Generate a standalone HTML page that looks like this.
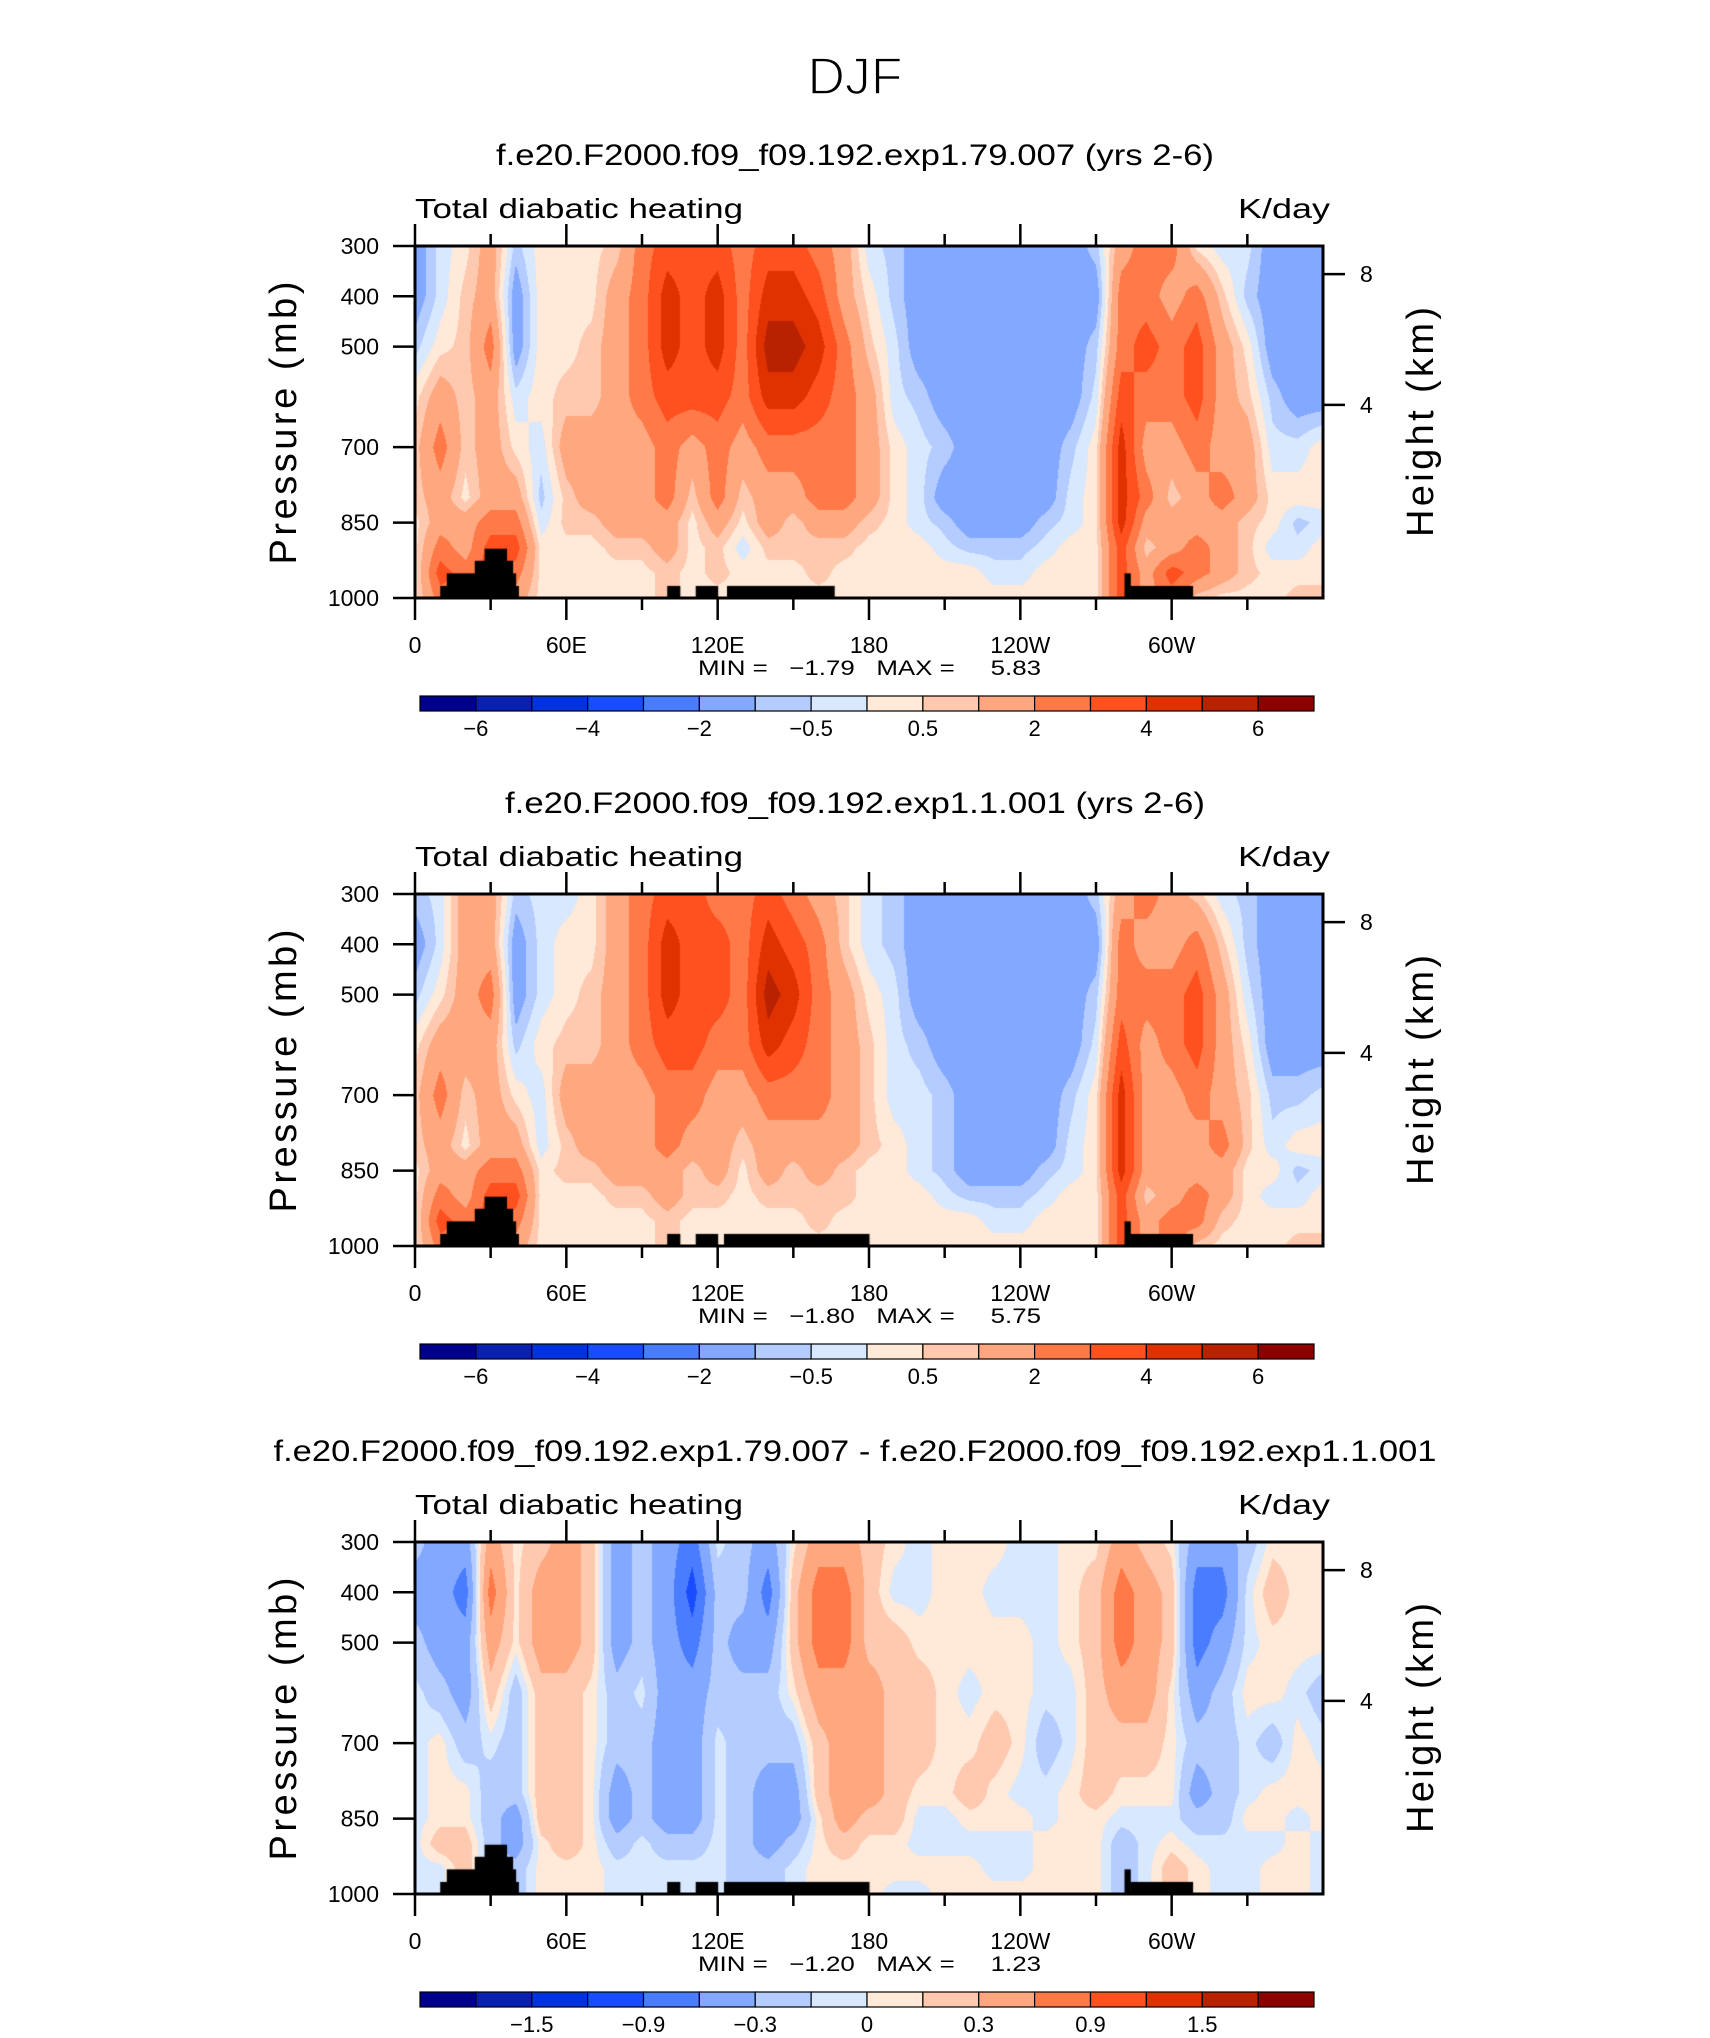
<!DOCTYPE html>
<html><head><meta charset="utf-8">
<style>
html,body{margin:0;padding:0;background:#fff;}
#root{position:relative;width:1710px;height:2038px;overflow:hidden;background:#fff;}
canvas{position:absolute;}
svg{position:absolute;left:0;top:0;}
text{font-family:"Liberation Sans",sans-serif;fill:#000;white-space:pre;}
</style></head>
<body>
<div id="root">
<canvas id="c0" width="908" height="352" style="left:415px;top:246px"></canvas>
<canvas id="c1" width="908" height="352" style="left:415px;top:894px"></canvas>
<canvas id="c2" width="908" height="352" style="left:415px;top:1542px"></canvas>
<svg id="ov" width="1710" height="2038">
<text x="855" y="94" font-size="52" text-anchor="middle" textLength="95" lengthAdjust="spacingAndGlyphs" stroke="#fff" stroke-width="1.6" paint-order="normal">DJF</text>
</svg>
</div>
<script>
// ---- data ----
const lons = [0,10,20,30,40,50,60,70,80,90,100,110,120,130,140,150,160,170,180,190,200,210,220,230,240,250,260,270,280,290,300,310,320,330,340,350,360];
const levels = [300,400,500,600,700,800,850,900,950,1000];
const levelsA = [-6,-5,-4,-3,-2,-1,-0.5,0,0.5,1,2,3,4,5,6];
const levelsB = [-1.8,-1.5,-1.2,-0.9,-0.6,-0.3,-0.1,0,0.1,0.3,0.6,0.9,1.2,1.5,1.8];
const cbLabelsA = ["\u22126","\u22124","\u22122","\u22120.5","0.5","2","4","6"];
const cbLabelsB = ["\u22121.5","\u22120.9","\u22120.3","0","0.3","0.9","1.5"];
const palette = ["#00008c","#0a20b0","#0032e0","#1a4cff","#4a7cff","#82a8ff","#b4ccff","#d8e8ff","#ffe9d8","#ffc9b0","#ffa880","#ff7a48","#ff5020","#e03200","#b82200","#8c0000"];
// each row = one longitude, values at levels 300..1000
const field1 = [
[-1.5,-1.5,-0.7,0.3,0.7,0.7,0.3,0.3,0.3,0.3],
[-0.3,-0.3,0.3,1.5,2.5,1.5,1.5,2.5,3.5,2.5],
[0.3,0.7,0.7,0.7,0.7,0.3,1.5,1.5,2.5,2.5],
[1.5,1.5,2.5,1.5,1.5,1.5,2.5,3.5,3.5,3.5],
[-0.7,-1.5,-1.5,-0.3,0.3,1.5,2.5,3.5,2.5,1.5],
[0.3,0.3,0.3,0.3,-0.3,-0.7,-0.3,0.3,0.3,0.3],
[0.3,0.3,0.3,0.7,1.5,0.7,0.7,0.3,0.3,0.3],
[0.3,0.3,0.7,0.7,1.5,1.5,0.7,0.3,0.3,0.3],
[0.7,1.5,1.5,1.5,1.5,1.5,1.5,0.7,0.3,0.3],
[2.5,2.5,2.5,2.5,1.5,1.5,1.5,0.7,0.3,0.3],
[3.5,4.5,4.5,3.5,2.5,2.5,1.5,1.5,0.7,0.7],
[3.5,3.5,3.5,3.5,1.5,0.7,0.3,0.3,0.3,0.3],
[3.5,4.5,4.5,3.5,2.5,2.5,1.5,0.7,0.7,0.3],
[2.5,2.5,2.5,2.5,1.5,0.7,0.3,-0.3,0.3,0.3],
[3.5,4.5,5.5,4.5,2.5,1.5,1.5,0.7,0.3,0.3],
[3.5,4.5,5.5,4.5,2.5,1.5,0.7,0.7,0.3,0.3],
[2.5,3.5,4.5,3.5,2.5,2.5,1.5,0.7,0.7,0.3],
[1.5,1.5,2.5,2.5,2.5,2.5,1.5,0.7,0.3,0.3],
[-0.3,0.3,0.7,1.5,1.5,1.5,0.7,0.3,0.3,0.3],
[-0.7,-0.7,-0.3,-0.3,0.3,0.3,0.3,0.3,0.3,0.3],
[-1.5,-1.5,-1.5,-0.7,-0.3,-0.3,-0.3,0.3,0.3,0.3],
[-1.5,-1.5,-1.5,-1.5,-0.7,-1.5,-0.7,-0.3,0.3,0.3],
[-1.5,-1.5,-1.5,-1.5,-1.5,-1.5,-1.5,-0.7,0.3,0.3],
[-1.5,-1.5,-1.5,-1.5,-1.5,-1.5,-1.5,-0.7,-0.3,0.3],
[-1.5,-1.5,-1.5,-1.5,-1.5,-1.5,-1.5,-0.7,-0.3,0.3],
[-1.5,-1.5,-1.5,-1.5,-1.5,-1.5,-0.7,-0.3,0.3,0.3],
[-1.5,-1.5,-1.5,-1.5,-0.7,-0.3,-0.3,0.3,0.3,0.3],
[-0.7,-1.5,-0.7,-0.3,0.3,0.3,0.3,0.3,0.3,0.3],
[1.5,2.5,2.5,3.5,4.5,4.5,4.5,3.5,3.5,3.5],
[2.5,2.5,3.5,2.5,1.5,2.5,1.5,0.7,1.5,1.5],
[2.5,1.5,2.5,2.5,1.5,0.7,1.5,1.5,3.5,2.5],
[0.3,2.5,3.5,3.5,2.5,1.5,1.5,2.5,2.5,0.7],
[-0.3,0.7,1.5,1.5,1.5,2.5,1.5,1.5,1.5,0.3],
[-0.3,-0.7,0.3,0.7,1.5,1.5,0.7,0.7,0.7,0.3],
[-1.5,-1.5,-1.5,-0.7,-0.3,0.3,0.3,-0.3,0.3,0.3],
[-1.5,-1.5,-1.5,-1.5,-0.3,0.3,-0.7,-0.3,0.3,0.7],
[-1.5,-1.5,-1.5,-1.5,0.3,0.3,-0.3,0.3,0.3,0.7]
];
const field2 = [
[-0.7,-1.5,-0.7,0.3,0.7,0.7,0.3,0.3,0.3,0.3],
[-0.3,-0.3,0.3,1.5,2.5,1.5,1.5,2.5,3.5,2.5],
[1.5,1.5,1.5,1.5,0.7,0.3,1.5,1.5,2.5,2.5],
[1.5,1.5,2.5,1.5,1.5,1.5,2.5,3.5,3.5,3.5],
[-0.7,-1.5,-1.5,-0.7,0.3,1.5,2.5,3.5,2.5,1.5],
[-0.3,-0.3,-0.3,0.3,-0.3,-0.3,0.3,0.3,0.3,0.3],
[-0.3,0.3,0.3,0.7,1.5,0.7,0.7,0.3,0.3,0.3],
[0.3,0.3,0.7,0.7,1.5,1.5,0.7,0.3,0.3,0.3],
[1.5,1.5,1.5,1.5,1.5,1.5,1.5,0.7,0.3,0.3],
[2.5,2.5,2.5,2.5,1.5,1.5,1.5,0.7,0.3,0.3],
[3.5,4.5,4.5,3.5,2.5,2.5,1.5,1.5,0.7,0.7],
[3.5,3.5,3.5,3.5,2.5,1.5,0.7,0.7,0.3,0.3],
[2.5,3.5,3.5,2.5,1.5,1.5,1.5,0.7,0.3,0.3],
[2.5,2.5,2.5,2.5,1.5,0.7,0.3,0.3,0.3,0.3],
[3.5,4.5,5.5,4.5,2.5,1.5,1.5,0.7,0.3,0.3],
[2.5,3.5,4.5,3.5,2.5,1.5,0.7,0.7,0.3,0.3],
[1.5,2.5,2.5,2.5,2.5,1.5,1.5,0.7,0.7,0.3],
[0.7,0.7,1.5,1.5,1.5,1.5,0.7,0.7,0.3,0.3],
[-0.3,-0.3,0.3,0.7,0.7,0.7,0.3,0.3,0.3,0.3],
[-0.7,-0.7,-0.3,-0.3,-0.3,0.3,0.3,0.3,0.3,0.3],
[-1.5,-1.5,-1.5,-0.7,-0.3,-0.3,-0.3,0.3,0.3,0.3],
[-1.5,-1.5,-1.5,-1.5,-0.7,-0.7,-0.7,-0.3,0.3,0.3],
[-1.5,-1.5,-1.5,-1.5,-1.5,-1.5,-1.5,-0.7,0.3,0.3],
[-1.5,-1.5,-1.5,-1.5,-1.5,-1.5,-1.5,-0.7,-0.3,0.3],
[-1.5,-1.5,-1.5,-1.5,-1.5,-1.5,-1.5,-0.7,-0.3,0.3],
[-1.5,-1.5,-1.5,-1.5,-1.5,-1.5,-0.7,-0.3,0.3,0.3],
[-1.5,-1.5,-1.5,-1.5,-0.7,-0.3,-0.3,0.3,0.3,0.3],
[-0.7,-1.5,-0.7,-0.3,0.3,0.3,0.3,0.3,0.3,0.3],
[1.5,2.5,2.5,3.5,4.5,4.5,4.5,3.5,3.5,3.5],
[2.5,1.5,2.5,1.5,1.5,1.5,1.5,0.7,1.5,1.5],
[1.5,1.5,2.5,2.5,1.5,1.5,1.5,1.5,2.5,2.5],
[0.7,2.5,3.5,3.5,2.5,1.5,1.5,2.5,2.5,0.7],
[-0.3,0.7,1.5,1.5,1.5,2.5,1.5,1.5,0.7,0.3],
[-0.7,-0.7,-0.3,0.3,0.7,0.7,0.3,0.3,0.3,0.3],
[-1.5,-1.5,-1.5,-1.5,-0.7,-0.3,0.3,-0.3,0.3,0.3],
[-1.5,-1.5,-1.5,-1.5,-0.7,0.3,-0.7,-0.3,0.3,0.7],
[-1.5,-1.5,-1.5,-1.5,-0.3,0.3,-0.3,0.3,0.3,0.7]
];
const field3 = [
[-0.2,-0.45,-0.2,-0.05,-0.05,-0.05,-0.05,-0.05,-0.05,-0.05],
[-0.45,-0.45,-0.45,-0.2,0.05,0.05,0.05,0.2,-0.05,-0.05],
[-0.45,-0.75,-0.45,-0.45,-0.2,0.05,0.05,0.2,0.2,0.2],
[0.45,0.75,0.45,0.2,-0.05,-0.2,-0.2,-0.2,-0.2,-0.2],
[0.05,0.05,0.05,-0.2,-0.2,-0.2,-0.45,-0.45,-0.2,-0.2],
[0.2,0.45,0.45,0.2,0.2,0.2,0.2,0.05,0.05,0.05],
[0.45,0.45,0.45,0.2,0.2,0.2,0.2,0.2,0.05,0.05],
[0.2,0.2,0.2,0.05,0.05,0.05,0.05,0.05,0.05,0.05],
[-0.45,-0.45,-0.45,-0.2,-0.2,-0.45,-0.45,-0.2,-0.05,-0.05],
[-0.2,-0.2,-0.2,-0.05,-0.2,-0.2,-0.2,-0.05,-0.05,-0.05],
[-0.45,-0.45,-0.45,-0.45,-0.45,-0.45,-0.45,-0.2,-0.05,-0.05],
[-0.75,-1.05,-0.75,-0.45,-0.45,-0.45,-0.45,-0.2,-0.05,-0.05],
[-0.05,-0.2,-0.2,-0.2,-0.05,-0.05,-0.05,-0.05,-0.05,-0.05],
[-0.2,-0.2,-0.45,-0.2,-0.2,-0.2,-0.2,-0.2,-0.2,-0.2],
[-0.45,-0.75,-0.45,-0.2,-0.2,-0.45,-0.45,-0.45,-0.2,-0.2],
[0.05,0.2,0.2,0.05,-0.2,-0.45,-0.45,-0.2,-0.05,-0.05],
[0.45,0.75,0.75,0.45,0.2,0.2,0.05,0.05,0.05,0.05],
[0.45,0.75,0.75,0.45,0.45,0.45,0.45,0.2,0.05,0.05],
[0.2,0.2,0.2,0.45,0.45,0.45,0.2,0.05,0.05,0.05],
[0.05,-0.05,0.2,0.2,0.2,0.2,0.2,0.05,0.05,-0.05],
[-0.05,-0.05,0.05,0.2,0.2,0.05,-0.05,-0.05,0.05,-0.05],
[0.05,0.05,0.05,0.05,0.05,0.05,-0.05,-0.05,0.05,0.05],
[0.05,0.05,0.05,-0.05,0.05,0.2,0.05,-0.05,0.05,0.05],
[0.05,-0.05,0.05,0.05,0.2,0.05,0.05,-0.05,-0.05,0.05],
[-0.05,-0.05,0.05,0.05,0.05,-0.05,0.05,-0.05,-0.05,0.05],
[-0.05,-0.05,-0.05,-0.05,-0.2,-0.05,-0.05,0.05,0.05,0.05],
[0.05,0.05,0.05,-0.05,-0.05,0.05,0.05,0.05,0.05,0.05],
[0.05,0.2,0.2,0.2,0.2,0.2,0.05,0.05,0.05,0.05],
[0.45,0.75,0.75,0.45,0.2,0.05,-0.05,-0.2,-0.2,-0.2],
[0.2,0.45,0.45,0.45,0.2,0.05,-0.05,-0.05,-0.05,-0.05],
[0.05,0.2,0.2,0.05,0.05,0.05,-0.05,0.05,0.2,0.2],
[-0.45,-0.75,-0.75,-0.45,-0.2,-0.45,-0.2,-0.05,0.05,0.05],
[-0.45,-0.75,-0.45,-0.2,-0.2,-0.2,-0.2,-0.05,-0.05,-0.05],
[-0.2,-0.05,-0.05,0.05,-0.05,-0.05,0.05,-0.05,-0.05,-0.05],
[0.05,0.2,0.05,0.05,-0.2,0.05,0.05,-0.05,0.05,0.05],
[0.05,0.05,0.05,-0.05,0.05,0.05,-0.05,0.05,0.05,0.05],
[0.05,0.05,0.05,-0.2,-0.05,0.05,0.05,-0.05,-0.05,-0.05]
];
// topography blocks: [lonStart, lonEnd, topPressure]
const topoA = [[10,12.6,976],[12.6,23.7,951],[23.7,27.6,926],[27.6,36.3,902],[36.3,38.7,926],[38.7,39.9,951],[39.9,41,976],[100,105,976],[111.3,120,976],[123.7,166.2,976],[281.3,283.6,951],[283.6,308.3,976]];
const topoB = [[10,12.6,976],[12.6,23.7,951],[23.7,27.6,926],[27.6,36.3,902],[36.3,38.7,926],[38.7,39.9,951],[39.9,41,976],[100,105,976],[111.3,120,976],[122.5,180,976],[281.3,283.6,951],[283.6,308.3,976]];
const xTickLabels = ["0","60E","120E","180","120W","60W"];
const xTickLons = [0,60,120,180,240,300];
const pTicks = [300,400,500,700,850,1000];
const hTicks = [8,4];
const hTickP = [356,616];
const subtitles = ["f.e20.F2000.f09_f09.192.exp1.79.007 (yrs 2-6)","f.e20.F2000.f09_f09.192.exp1.1.001 (yrs 2-6)","f.e20.F2000.f09_f09.192.exp1.79.007 - f.e20.F2000.f09_f09.192.exp1.1.001"];
const subtitleWidths = [718,700,1163];
const minmax = ["MIN =   \u22121.79   MAX =     5.83","MIN =   \u22121.80   MAX =     5.75","MIN =   \u22121.20   MAX =     1.23"];

// ---- geometry ----
const PW = 908, PH = 352, PX = 415;
const panelTops = [246, 894, 1542];
function xOf(lon){ return lon/360*PW; }
function yOf(p){ return (p-300)/700*PH; }

function sample(field, lon, p){
  let i = Math.min(Math.floor(lon/10), lons.length-2);
  let tx = (lon - lons[i])/10;
  let j = 0;
  while (j < levels.length-2 && p > levels[j+1]) j++;
  let ty = (p - levels[j])/(levels[j+1]-levels[j]);
  ty = Math.max(0, Math.min(1, ty));
  const a = field[i][j], b = field[i+1][j], c = field[i][j+1], d = field[i+1][j+1];
  return (a*(1-tx)+b*tx)*(1-ty) + (c*(1-tx)+d*tx)*ty;
}
function colorFor(v, lv){
  let k = 0;
  while (k < lv.length && v >= lv[k]) k++;
  return palette[k];
}
function drawPanel(cid, field, lv, topo){
  const ctx = document.getElementById(cid).getContext('2d');
  const s = 1;
  for (let px = 0; px < PW; px += s){
    const lon = (px + s/2)/PW*360;
    for (let py = 0; py < PH; py += s){
      const p = 300 + (py + s/2)/PH*700;
      ctx.fillStyle = colorFor(sample(field, lon, p), lv);
      ctx.fillRect(px, py, s, s);
    }
  }
  ctx.fillStyle = '#000';
  topo.forEach(t => {
    const x0 = xOf(t[0]), x1 = xOf(t[1]), y0 = yOf(t[2]);
    ctx.fillRect(x0, y0, x1 - x0 + 0.5, PH - y0);
  });
}
drawPanel('c0', field1, levelsA, topoA);
drawPanel('c1', field2, levelsA, topoB);
drawPanel('c2', field3, levelsB, topoB);

// ---- SVG overlay ----
const NS = 'http://www.w3.org/2000/svg';
const svg = document.getElementById('ov');
function mk(tag, attrs, parent){
  const e = document.createElementNS(NS, tag);
  for (const k in attrs) e.setAttribute(k, attrs[k]);
  (parent || svg).appendChild(e);
  return e;
}
function txt(str, attrs, parent){ const e = mk('text', attrs, parent); e.textContent = str; return e; }

panelTops.forEach((T, n) => {
  const g = mk('g', {});
  
  
  const st = txt(subtitles[n], {x: 855, y: T - 81, 'font-size': 30, 'text-anchor': 'middle', textLength: subtitleWidths[n], lengthAdjust: 'spacingAndGlyphs'}, g);
  
  
  const lt = txt('Total diabatic heating', {x: PX, y: T - 28, 'font-size': 28, textLength: 328, lengthAdjust: 'spacingAndGlyphs'}, g);
  
  
  const ut = txt('K/day', {x: 1330, y: T - 28, 'font-size': 28, 'text-anchor': 'end', textLength: 92, lengthAdjust: 'spacingAndGlyphs'}, g);
  
  
  const fr = mk('rect', {x: PX, y: T, width: PW, height: PH, fill: 'none', stroke: '#000', 'stroke-width': 3}, g);
  
  
  for (let lon = 0; lon <= 330; lon += 30){
    const x = PX + xOf(lon), major = lon % 60 === 0;
    const L = major ? 22 : 12;
    const tb = mk('line', {x1: x, x2: x, y1: T + PH, y2: T + PH + L, stroke: '#000', 'stroke-width': 2.5}, g);
    
    
    const tt = mk('line', {x1: x, x2: x, y1: T, y2: T - L, stroke: '#000', 'stroke-width': 2.5}, g);
    
    
  }
  xTickLons.forEach((lon, i) => {
    const e = txt(xTickLabels[i], {x: PX + xOf(lon), y: T + PH + 55, 'font-size': 23, 'text-anchor': 'middle'}, g);
    
    
  });
  pTicks.forEach(p => {
    const y = T + yOf(p);
    const l = mk('line', {x1: PX - 22, x2: PX, y1: y, y2: y, stroke: '#000', 'stroke-width': 2.5}, g);
    
    
    const e = txt(String(p), {x: 379, y: y + 8, 'font-size': 23, 'text-anchor': 'end'}, g);
    
    
  });
  hTicks.forEach((h, i) => {
    const y = T + yOf(hTickP[i]);
    const l = mk('line', {x1: PX + PW, x2: PX + PW + 22, y1: y, y2: y, stroke: '#000', 'stroke-width': 2.5}, g);
    
    
    const e = txt(String(h), {x: 1360, y: y + 8, 'font-size': 23}, g);
    
    
  });
  const yt = txt('Pressure (mb)', {x: 0, y: 0, 'font-size': 38, 'text-anchor': 'middle', textLength: 283, lengthAdjust: 'spacing', transform: 'translate(296,' + (T + 177) + ') rotate(-90)'}, g);
  
  
  const ht = txt('Height (km)', {x: 0, y: 0, 'font-size': 38, 'text-anchor': 'middle', textLength: 230, lengthAdjust: 'spacing', transform: 'translate(1433,' + (T + 176) + ') rotate(-90)'}, g);
  
  
  const mm = txt(minmax[n], {x: 698, y: T + PH + 77, 'font-size': 21, textLength: 343, lengthAdjust: 'spacingAndGlyphs'}, g);
  
  
  const cb = mk('g', {}, g);
  
  
  const cx0 = 420, bw = 894/16, cy = T + 450;
  palette.forEach((c, k) => {
    const r = mk('rect', {x: cx0 + k*bw, y: cy, width: bw, height: 15, fill: c, stroke: '#000', 'stroke-width': 1.2}, cb);
    
    
  });
  const labs = n < 2 ? cbLabelsA : cbLabelsB;
  labs.forEach((s, k) => {
    const b = n < 2 ? 1 + 2*k : 2 + 2*k;
    const e = txt(s, {x: cx0 + b*bw, y: cy + 40, 'font-size': 22, 'text-anchor': 'middle'}, cb);
    
    
  });
});
</script>
</body></html>
